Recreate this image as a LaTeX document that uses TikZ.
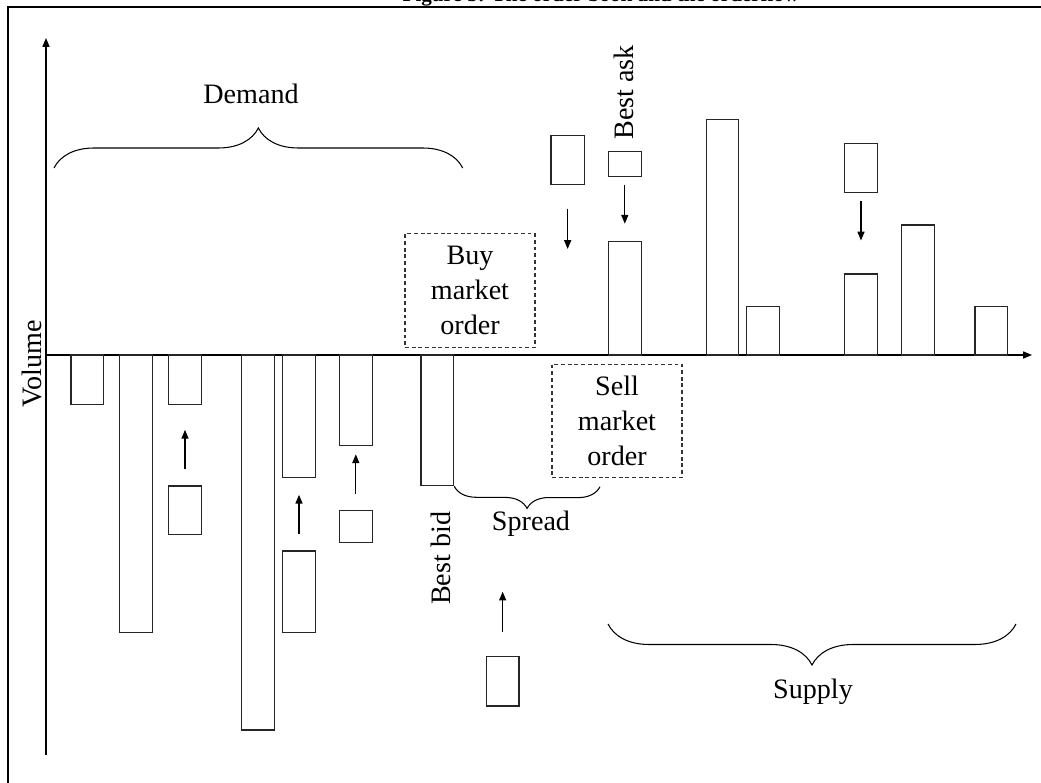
\documentclass[tikz,border=0pt]{standalone}
\usepackage{fontspec}
\setmainfont{Liberation Serif}
\usetikzlibrary{arrows.meta, positioning, fit, decorations.pathreplacing}

\begin{document}
\begin{tikzpicture}[
    x=0.02cm, y=-0.02cm,
    bar/.style={rectangle, draw=black!85, line width=0.6pt, inner sep=0pt},
    order/.style={rectangle, draw=black!85, line width=0.6pt, inner sep=0pt},
    mktbox/.style={rectangle, draw=black!80, dash pattern=on 2.2pt off 1.6pt, line width=0.6pt, minimum width=2.6cm, minimum height=2.27cm, align=center, inner sep=0pt, font=\fontsize{16}{19.8}\selectfont},
    label/.style={inner sep=0pt, font=\fontsize{16}{19.8}\selectfont},
    flow/.style={-{Triangle[length=5pt, width=4pt]}, line width=0.7pt},
    axis/.style={-{Triangle[length=5pt, width=4pt]}, line width=0.7pt},
    curly/.style={decorate, decoration={brace, amplitude=#1}, line width=0.6pt}
]
\useasboundingbox (0,0) rectangle (1041,783);

% Caption and frame
\node[anchor=base, inner sep=0pt, font=\fontsize{12}{14}\selectfont\bfseries] (title) at (601,1.5) {Figure 5: The order book and the orderflow};
\draw[line width=1.1pt] (8,7) rectangle (1060,800);

% Axes
\coordinate (origin) at (46,355);
\coordinate (xend) at (1032,355);
\coordinate (ytop) at (46,38);
\coordinate (ybot) at (46,755);
\draw[axis] (origin) -- (xend);
\draw[axis] (ybot) -- (ytop);
\node[label, rotate=90, anchor=base] (volume) at (41.5,364) {Volume};

% Bid side: limit buy orders
\node[bar, fit={(71,355) (103.3,404.3)}] (bid1) {};
\node[bar, fit={(119.3,355) (152.3,632.7)}] (bid2) {};
\node[bar, fit={(168.7,355) (201.3,404.3)}] (bid3) {};
\node[bar, fit={(241.7,355) (274.7,730)}] (bid4) {};
\node[bar, fit={(282.7,355) (315.3,477.3)}] (bid5) {};
\node[bar, fit={(339.3,355) (372.3,445.3)}] (bid6) {};
\node[bar, fit={(421,355) (453.7,485.7)}] (bestbid) {};

% Ask side: limit sell orders
\node[bar, fit={(608.3,241.7) (641.3,355)}] (bestask) {};
\node[bar, fit={(706.3,119.3) (738.7,355)}] (ask2) {};
\node[bar, fit={(746.7,306.7) (779.7,355)}] (ask3) {};
\node[bar, fit={(844.7,274) (877.3,355)}] (ask4) {};
\node[bar, fit={(901.7,225) (934.3,355)}] (ask5) {};
\node[bar, fit={(975,306.7) (1007.3,355)}] (ask6) {};

% Incoming buy orders
\node[order, fit={(168.7,486) (201.3,534.7)}] (newbid3) {};
\node[order, fit={(282.7,551) (315.3,632.7)}] (newbid5) {};
\node[order, fit={(339.3,510.3) (372.3,542.7)}] (newbid6) {};
\node[order, fit={(486.3,656.7) (519,706)}] (newbid8) {};
\coordinate (inside_bid) at (502.65,591.7);

% Incoming sell orders
\node[order, fit={(551,135.7) (584.3,184.7)}] (newask1) {};
\node[order, fit={(608.3,151.7) (641.3,176.3)}] (newask2) {};
\node[order, fit={(844.7,143.3) (877.3,192.3)}] (newask4) {};
\coordinate (inside_ask) at (567.65,249);

% Market orders
\node[mktbox] (buy_mkt) at (470,290.7) {Buy\\market\\order};
\node[mktbox] (sell_mkt) at (617,420.8) {Sell\\market\\order};

% Order flow
\draw[flow, shorten <=0.32cm, shorten >=0.5cm] (newbid3) -- (bid3);
\draw[flow, shorten <=0.33cm, shorten >=0.34cm] (newbid5) -- (bid5);
\draw[flow, shorten <=0.32cm, shorten >=0.17cm] (newbid6) -- (bid6);
\draw[flow, shorten <=0.48cm] (newbid8) -- (inside_bid);
\draw[flow, shorten <=0.47cm] (newask1) -- (inside_ask);
\draw[flow, shorten <=0.16cm, shorten >=0.35cm] (newask2) -- (bestask);
\draw[flow, shorten <=0.17cm, shorten >=0.66cm] (newask4) -- (ask4);

% Braces and labels
\draw[curly=0.8cm] (54,168) -- (462.7,168);
\draw[curly=0.44cm] (600,486.7) -- (bestbid.south east);
\draw[curly=0.82cm] (1016,624) -- (608,624);
\node[label, anchor=base] (demand) at (251,103.3) {Demand};
\node[label, anchor=base] (spread) at (531,530) {Spread};
\node[label, anchor=base] (supply) at (813,698.3) {Supply};
\node[label, rotate=90, anchor=base] (bestbid_lbl) at (450,558.3) {Best bid};
\node[label, rotate=90, anchor=base] (bestask_lbl) at (633.3,92.5) {Best ask};

\end{tikzpicture}
\end{document}
